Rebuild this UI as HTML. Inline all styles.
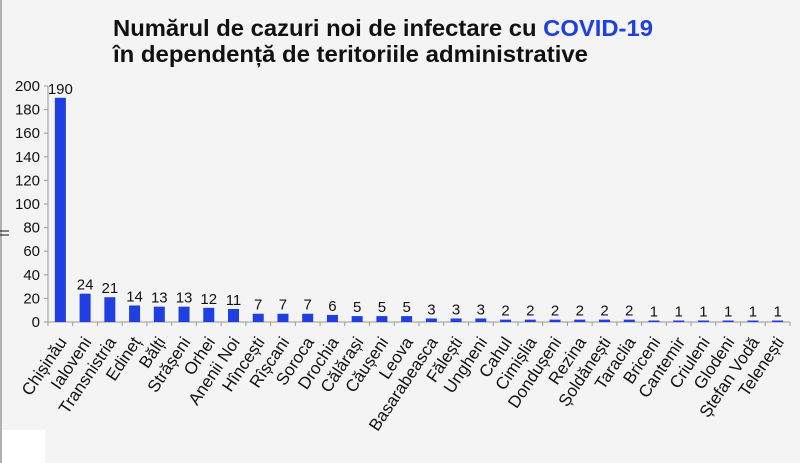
<!DOCTYPE html>
<html><head><meta charset="utf-8"><style>
body{margin:0;background:#f4f4f4}
svg{display:block;font-family:"Liberation Sans",Arial,sans-serif}
</style></head><body>
<svg width="800" height="463" viewBox="0 0 800 463" xmlns="http://www.w3.org/2000/svg">
<rect width="800" height="463" fill="#f4f4f4"/>
<rect x="0" y="0" width="2" height="463" fill="#b0b0b0"/>
<rect x="2" y="430" width="43" height="33" fill="#ffffff"/>
<text x="113" y="36" font-size="23" font-weight="bold" fill="#111" textLength="540" lengthAdjust="spacingAndGlyphs">Numărul de cazuri noi de infectare cu <tspan fill="#1f3fe0">COVID-19</tspan></text>
<text x="113" y="62" font-size="23" font-weight="bold" fill="#111" textLength="475" lengthAdjust="spacingAndGlyphs">în dependență de teritoriile administrative</text>
<g stroke="#111" stroke-width="1"><line x1="0" y1="231" x2="9" y2="231"/><line x1="0" y1="235" x2="9" y2="235"/></g>
<g id="c"></g>
</svg>
<script>
const names=["Chișinău","Ialoveni","Transnistria","Edineț","Bălți","Strășeni","Orhei","Anenii Noi","Hîncești","Rîșcani","Soroca","Drochia","Călărași","Căușeni","Leova","Basarabeasca","Fălești","Ungheni","Cahul","Cimișlia","Dondușeni","Rezina","Șoldănești","Taraclia","Briceni","Cantemir","Criuleni","Glodeni","Ștefan Vodă","Telenești"];
const vals=[190,24,21,14,13,13,12,11,7,7,7,6,5,5,5,3,3,3,2,2,2,2,2,2,1,1,1,1,1,1];
const y0=322,sc=236/200,x0=48,x1=790,sp=(x1-x0)/30;
let s='';
s+=`<line x1="${x0}" y1="86" x2="${x0}" y2="${y0}" stroke="#999"/>`;
s+=`<line x1="${x0}" y1="${y0}" x2="${x1}" y2="${y0}" stroke="#999"/>`;
for(let v=0;v<=200;v+=20){const y=y0-v*sc;s+=`<line x1="${x0-4}" y1="${y}" x2="${x0}" y2="${y}" stroke="#999"/><text x="40" y="${y+5}" font-size="15" text-anchor="end" fill="#111">${v}</text>`;}
for(let i=0;i<=30;i++){const x=x0+i*sp;s+=`<line x1="${x}" y1="${y0}" x2="${x}" y2="${y0+4}" stroke="#999"/>`;}
vals.forEach((v,i)=>{const cx=x0+sp/2+i*sp;const h=Math.max(v*sc,1.5);
s+=`<rect x="${cx-5.5}" y="${y0-h}" width="11" height="${h}" fill="#1f3fe0"/>`;
s+=`<text x="${cx}" y="${y0-h-4}" font-size="15" text-anchor="middle" fill="#111">${v}</text>`;
s+=`<text transform="translate(${cx+7},${y0+20}) rotate(-56)" font-size="17" text-anchor="end" fill="#111">${names[i]}</text>`;});
document.getElementById('c').innerHTML=s;
</script>
</body></html>
